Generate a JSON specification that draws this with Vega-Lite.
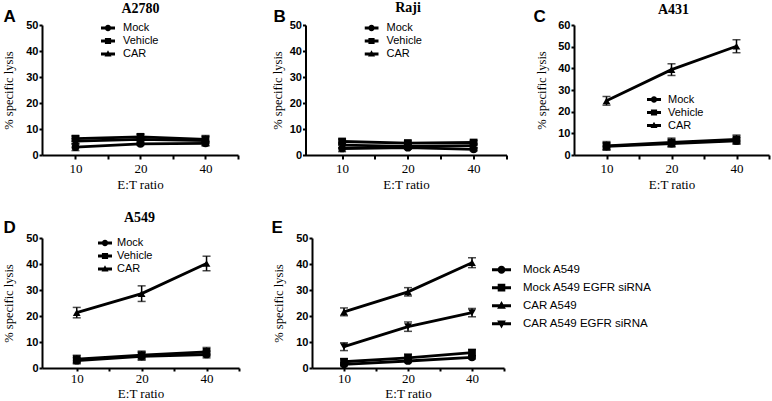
{
  "$schema": "https://vega.github.io/schema/vega-lite/v6.json",
  "padding": {"left": 2, "top": 0, "right": 2, "bottom": 0},
  "config": {
    "view": {"stroke": null},
    "axis": {"labelColor": "black", "titleColor": "black", "domainColor": "black", "tickColor": "black"},
    "legend": {"labelColor": "black"}
  },
  "datasets": {
    "A": [
      {"series": "Mock", "ratio": 10, "mean": 3.0, "err": 1.3},
      {"series": "Mock", "ratio": 20, "mean": 4.3, "err": 0.6},
      {"series": "Mock", "ratio": 40, "mean": 4.5, "err": 0.8},
      {"series": "Vehicle", "ratio": 10, "mean": 6.3, "err": 1.0},
      {"series": "Vehicle", "ratio": 20, "mean": 7.0, "err": 1.0},
      {"series": "Vehicle", "ratio": 40, "mean": 6.0, "err": 1.0},
      {"series": "CAR", "ratio": 10, "mean": 5.3, "err": 1.0},
      {"series": "CAR", "ratio": 20, "mean": 6.0, "err": 0.8},
      {"series": "CAR", "ratio": 40, "mean": 5.5, "err": 2.0}
    ],
    "B": [
      {"series": "Mock", "ratio": 10, "mean": 2.5, "err": 1.2},
      {"series": "Mock", "ratio": 20, "mean": 2.8, "err": 0.6},
      {"series": "Mock", "ratio": 40, "mean": 2.2, "err": 0.6},
      {"series": "Vehicle", "ratio": 10, "mean": 5.2, "err": 0.9},
      {"series": "Vehicle", "ratio": 20, "mean": 4.6, "err": 0.8},
      {"series": "Vehicle", "ratio": 40, "mean": 4.8, "err": 0.8},
      {"series": "CAR", "ratio": 10, "mean": 3.8, "err": 1.0},
      {"series": "CAR", "ratio": 20, "mean": 3.3, "err": 0.7},
      {"series": "CAR", "ratio": 40, "mean": 3.6, "err": 0.8}
    ],
    "C": [
      {"series": "Mock", "ratio": 10, "mean": 4.0, "err": 1.5},
      {"series": "Mock", "ratio": 20, "mean": 5.3, "err": 1.5},
      {"series": "Mock", "ratio": 40, "mean": 6.5, "err": 1.5},
      {"series": "Vehicle", "ratio": 10, "mean": 4.2, "err": 2.0},
      {"series": "Vehicle", "ratio": 20, "mean": 5.8, "err": 2.0},
      {"series": "Vehicle", "ratio": 40, "mean": 7.2, "err": 2.0},
      {"series": "CAR", "ratio": 10, "mean": 25.0, "err": 2.0},
      {"series": "CAR", "ratio": 20, "mean": 39.4, "err": 2.7},
      {"series": "CAR", "ratio": 40, "mean": 50.2, "err": 3.0}
    ],
    "D": [
      {"series": "Mock", "ratio": 10, "mean": 2.8, "err": 1.2},
      {"series": "Mock", "ratio": 20, "mean": 4.5, "err": 1.5},
      {"series": "Mock", "ratio": 40, "mean": 5.2, "err": 1.3},
      {"series": "Vehicle", "ratio": 10, "mean": 3.4, "err": 1.5},
      {"series": "Vehicle", "ratio": 20, "mean": 4.9, "err": 1.6},
      {"series": "Vehicle", "ratio": 40, "mean": 6.2, "err": 1.7},
      {"series": "CAR", "ratio": 10, "mean": 21.3, "err": 2.0},
      {"series": "CAR", "ratio": 20, "mean": 28.6, "err": 3.0},
      {"series": "CAR", "ratio": 40, "mean": 40.2, "err": 2.8}
    ],
    "E": [
      {"series": "Mock A549", "ratio": 10, "mean": 1.4, "err": 0.6},
      {"series": "Mock A549", "ratio": 20, "mean": 2.7, "err": 0.6},
      {"series": "Mock A549", "ratio": 40, "mean": 4.1, "err": 0.6},
      {"series": "Mock A549 EGFR siRNA", "ratio": 10, "mean": 2.4, "err": 1.2},
      {"series": "Mock A549 EGFR siRNA", "ratio": 20, "mean": 3.9, "err": 1.5},
      {"series": "Mock A549 EGFR siRNA", "ratio": 40, "mean": 5.9, "err": 1.2},
      {"series": "CAR A549", "ratio": 10, "mean": 21.6, "err": 1.5},
      {"series": "CAR A549", "ratio": 20, "mean": 29.3, "err": 1.6},
      {"series": "CAR A549", "ratio": 40, "mean": 40.5, "err": 1.9},
      {"series": "CAR A549 EGFR siRNA", "ratio": 10, "mean": 8.2, "err": 1.5},
      {"series": "CAR A549 EGFR siRNA", "ratio": 20, "mean": 15.9, "err": 1.8},
      {"series": "CAR A549 EGFR siRNA", "ratio": 40, "mean": 21.3, "err": 1.6}
    ]
  },
  "spacing": 19,
  "vconcat": [
    {
      "spacing": 67.5,
      "bounds": "flush",
      "hconcat": [
        {
          "width": 196, "height": 130,
          "data": {"name": "A"},
          "layer": [
            {"mark": {"type": "line", "color": "black", "strokeWidth": 2.8},
             "encoding": {
               "x": {"field": "ratio", "type": "quantitative", "scale": {"type": "log", "base": 2, "domain": [7.0, 56.57], "nice": false},
                     "axis": {"orient": "bottom", "values": [10, 14.142, 20, 28.284, 40, 56.56], "labelExpr": "(datum.value==10||datum.value==20||datum.value==40) ? datum.label : ''", "format": "d", "title": "E:T ratio", "titleFont": "Liberation Serif", "titleFontSize": 13, "titleFontWeight": "normal", "titlePadding": 3, "labelFont": "Liberation Serif", "labelFontSize": 13, "labelPadding": 3, "tickSize": 4, "tickWidth": 2, "domainWidth": 2, "grid": false, "labelFlush": false, "labelOverlap": false}},
               "y": {"field": "mean", "type": "quantitative", "scale": {"domain": [0, 50], "nice": false},
                     "axis": {"values": [0, 10, 20, 30, 40, 50], "title": "% specific lysis", "titleFont": "Liberation Serif", "titleFontSize": 12.5, "titleFontWeight": "normal", "titlePadding": 10, "labelFont": "Liberation Sans", "labelFontWeight": "bold", "labelFontSize": 11, "labelPadding": 1, "tickSize": 3, "tickWidth": 2, "domainWidth": 2, "grid": false, "labelFlush": false}},
               "detail": {"field": "series", "type": "nominal"}}},
            {"mark": {"type": "errorbar", "ticks": true, "size": 8, "thickness": 1.5, "color": "black"},
             "encoding": {
               "x": {"field": "ratio", "type": "quantitative", "axis": null},
               "y": {"field": "mean", "type": "quantitative", "axis": null},
               "yError": {"field": "err"}}},
            {"mark": {"type": "point", "filled": true, "color": "black", "opacity": 1, "size": 60},
             "encoding": {
               "x": {"field": "ratio", "type": "quantitative", "axis": {"orient": "top", "title": "A2780", "domain": false, "ticks": false, "labels": false, "grid": false, "titleFont": "Liberation Serif", "titleFontWeight": "bold", "titleFontSize": 14, "titleX": 98, "titleY": -13, "titleAlign": "center", "titleBaseline": "alphabetic"}},
               "y": {"field": "mean", "type": "quantitative", "axis": null},
               "shape": {"field": "series", "type": "nominal", "scale": {"domain": ["Mock", "Vehicle", "CAR"], "range": ["circle", "square", "triangle-up"]}, "legend": null}}},
            {"mark": {"type": "point", "filled": true, "color": "black", "opacity": 0},
             "encoding": {
               "x": {"field": "ratio", "type": "quantitative", "axis": null},
               "y": {"field": "mean", "type": "quantitative", "axis": {"orient": "right", "title": "A", "domain": false, "ticks": false, "labels": false, "grid": false, "titleAngle": 0, "titleX": -235, "titleY": -4, "titleAlign": "left", "titleBaseline": "alphabetic", "titleFont": "Liberation Sans", "titleFontWeight": "bold", "titleFontSize": 17}},
               "shape": {"field": "series", "type": "nominal",
                         "scale": {"domain": ["Mock", "Vehicle", "CAR"], "range": ["M-1,-0.2H1V0.2H-1ZM0.46,0A0.46,0.46,0,1,1,-0.46,0A0.46,0.46,0,1,1,0.46,0Z", "M-1,-0.2H1V0.2H-1ZM-0.44,-0.44H0.44V0.44H-0.44Z", "M-1,-0.2H1V0.2H-1ZM0,-0.55L0.5,0.35H-0.5Z"]},
                         "legend": {"orient": "none", "legendX": 59, "legendY": -3.5, "title": null, "symbolSize": 196, "symbolStrokeWidth": 0, "symbolFillColor": "black", "symbolOpacity": 1, "labelFont": "Liberation Sans", "labelFontSize": 11, "labelOffset": 8, "clipHeight": 13, "rowPadding": 0, "padding": 0}}}}
          ],
          "resolve": {"scale": {"shape": "independent"}, "axis": {"x": "independent", "y": "independent"}}
        },
        {
          "width": 201, "height": 130,
          "data": {"name": "B"},
          "layer": [
            {"mark": {"type": "line", "color": "black", "strokeWidth": 2.8},
             "encoding": {
               "x": {"field": "ratio", "type": "quantitative", "scale": {"type": "log", "base": 2, "domain": [6.8, 56.57], "nice": false},
                     "axis": {"orient": "bottom", "values": [10, 14.142, 20, 28.284, 40, 56.56], "labelExpr": "(datum.value==10||datum.value==20||datum.value==40) ? datum.label : ''", "format": "d", "title": "E:T ratio", "titleFont": "Liberation Serif", "titleFontSize": 13, "titleFontWeight": "normal", "titlePadding": 3, "labelFont": "Liberation Serif", "labelFontSize": 13, "labelPadding": 3, "tickSize": 4, "tickWidth": 2, "domainWidth": 2, "grid": false, "labelFlush": false, "labelOverlap": false}},
               "y": {"field": "mean", "type": "quantitative", "scale": {"domain": [0, 50], "nice": false},
                     "axis": {"values": [0, 10, 20, 30, 40, 50], "title": "% specific lysis", "titleFont": "Liberation Serif", "titleFontSize": 12.5, "titleFontWeight": "normal", "titlePadding": 5, "labelFont": "Liberation Sans", "labelFontWeight": "bold", "labelFontSize": 11, "labelPadding": 1, "tickSize": 3, "tickWidth": 2, "domainWidth": 2, "grid": false, "labelFlush": false}},
               "detail": {"field": "series", "type": "nominal"}}},
            {"mark": {"type": "errorbar", "ticks": true, "size": 8, "thickness": 1.5, "color": "black"},
             "encoding": {
               "x": {"field": "ratio", "type": "quantitative", "axis": null},
               "y": {"field": "mean", "type": "quantitative", "axis": null},
               "yError": {"field": "err"}}},
            {"mark": {"type": "point", "filled": true, "color": "black", "opacity": 1, "size": 60},
             "encoding": {
               "x": {"field": "ratio", "type": "quantitative", "axis": {"orient": "top", "title": "Raji", "domain": false, "ticks": false, "labels": false, "grid": false, "titleFont": "Liberation Serif", "titleFontWeight": "bold", "titleFontSize": 14, "titleX": 102, "titleY": -14, "titleAlign": "center", "titleBaseline": "alphabetic"}},
               "y": {"field": "mean", "type": "quantitative", "axis": null},
               "shape": {"field": "series", "type": "nominal", "scale": {"domain": ["Mock", "Vehicle", "CAR"], "range": ["circle", "square", "triangle-up"]}, "legend": null}}},
            {"mark": {"type": "point", "filled": true, "color": "black", "opacity": 0},
             "encoding": {
               "x": {"field": "ratio", "type": "quantitative", "axis": null},
               "y": {"field": "mean", "type": "quantitative", "axis": {"orient": "right", "title": "B", "domain": false, "ticks": false, "labels": false, "grid": false, "titleAngle": 0, "titleX": -233.5, "titleY": -4, "titleAlign": "left", "titleBaseline": "alphabetic", "titleFont": "Liberation Sans", "titleFontWeight": "bold", "titleFontSize": 17}},
               "shape": {"field": "series", "type": "nominal",
                         "scale": {"domain": ["Mock", "Vehicle", "CAR"], "range": ["M-1,-0.2H1V0.2H-1ZM0.46,0A0.46,0.46,0,1,1,-0.46,0A0.46,0.46,0,1,1,0.46,0Z", "M-1,-0.2H1V0.2H-1ZM-0.44,-0.44H0.44V0.44H-0.44Z", "M-1,-0.2H1V0.2H-1ZM0,-0.55L0.5,0.35H-0.5Z"]},
                         "legend": {"orient": "none", "legendX": 59, "legendY": -3.5, "title": null, "symbolSize": 196, "symbolStrokeWidth": 0, "symbolFillColor": "black", "symbolOpacity": 1, "labelFont": "Liberation Sans", "labelFontSize": 11, "labelOffset": 8, "clipHeight": 13, "rowPadding": 0, "padding": 0}}}}
          ],
          "resolve": {"scale": {"shape": "independent"}, "axis": {"x": "independent", "y": "independent"}}
        },
        {
          "width": 195, "height": 130,
          "data": {"name": "C"},
          "layer": [
            {"mark": {"type": "line", "color": "black", "strokeWidth": 2.8},
             "encoding": {
               "x": {"field": "ratio", "type": "quantitative", "scale": {"type": "log", "base": 2, "domain": [7.07, 56.57], "nice": false},
                     "axis": {"orient": "bottom", "values": [10, 14.142, 20, 28.284, 40, 56.56], "labelExpr": "(datum.value==10||datum.value==20||datum.value==40) ? datum.label : ''", "format": "d", "title": "E:T ratio", "titleFont": "Liberation Serif", "titleFontSize": 13, "titleFontWeight": "normal", "titlePadding": 3, "labelFont": "Liberation Serif", "labelFontSize": 13, "labelPadding": 3, "tickSize": 4, "tickWidth": 2, "domainWidth": 2, "grid": false, "labelFlush": false, "labelOverlap": false}},
               "y": {"field": "mean", "type": "quantitative", "scale": {"domain": [0, 60], "nice": false},
                     "axis": {"values": [0, 10, 20, 30, 40, 50, 60], "title": "% specific lysis", "titleFont": "Liberation Serif", "titleFontSize": 12.5, "titleFontWeight": "normal", "titlePadding": 9, "labelFont": "Liberation Sans", "labelFontWeight": "bold", "labelFontSize": 11, "labelPadding": 1, "tickSize": 3, "tickWidth": 2, "domainWidth": 2, "grid": false, "labelFlush": false}},
               "detail": {"field": "series", "type": "nominal"}}},
            {"mark": {"type": "errorbar", "ticks": true, "size": 8, "thickness": 1.5, "color": "black"},
             "encoding": {
               "x": {"field": "ratio", "type": "quantitative", "axis": null},
               "y": {"field": "mean", "type": "quantitative", "axis": null},
               "yError": {"field": "err"}}},
            {"mark": {"type": "point", "filled": true, "color": "black", "opacity": 1, "size": 60},
             "encoding": {
               "x": {"field": "ratio", "type": "quantitative", "axis": {"orient": "top", "title": "A431", "domain": false, "ticks": false, "labels": false, "grid": false, "titleFont": "Liberation Serif", "titleFontWeight": "bold", "titleFontSize": 14, "titleX": 99, "titleY": -12, "titleAlign": "center", "titleBaseline": "alphabetic"}},
               "y": {"field": "mean", "type": "quantitative", "axis": null},
               "shape": {"field": "series", "type": "nominal", "scale": {"domain": ["Mock", "Vehicle", "CAR"], "range": ["circle", "square", "triangle-up"]}, "legend": null}}},
            {"mark": {"type": "point", "filled": true, "color": "black", "opacity": 0},
             "encoding": {
               "x": {"field": "ratio", "type": "quantitative", "axis": null},
               "y": {"field": "mean", "type": "quantitative", "axis": {"orient": "right", "title": "C", "domain": false, "ticks": false, "labels": false, "grid": false, "titleAngle": 0, "titleX": -236, "titleY": -4, "titleAlign": "left", "titleBaseline": "alphabetic", "titleFont": "Liberation Sans", "titleFontWeight": "bold", "titleFontSize": 17}},
               "shape": {"field": "series", "type": "nominal",
                         "scale": {"domain": ["Mock", "Vehicle", "CAR"], "range": ["M-1,-0.2H1V0.2H-1ZM0.46,0A0.46,0.46,0,1,1,-0.46,0A0.46,0.46,0,1,1,0.46,0Z", "M-1,-0.2H1V0.2H-1ZM-0.44,-0.44H0.44V0.44H-0.44Z", "M-1,-0.2H1V0.2H-1ZM0,-0.55L0.5,0.35H-0.5Z"]},
                         "legend": {"orient": "none", "legendX": 73, "legendY": 68, "title": null, "symbolSize": 196, "symbolStrokeWidth": 0, "symbolFillColor": "black", "symbolOpacity": 1, "labelFont": "Liberation Sans", "labelFontSize": 11, "labelOffset": 7, "clipHeight": 13, "rowPadding": 0, "padding": 0}}}}
          ],
          "resolve": {"scale": {"shape": "independent"}, "axis": {"x": "independent", "y": "independent"}}
        }
      ]
    },
    {
      "spacing": 73,
      "bounds": "flush",
      "hconcat": [
        {
          "width": 197, "height": 130,
          "data": {"name": "D"},
          "layer": [
            {"mark": {"type": "line", "color": "black", "strokeWidth": 2.8},
             "encoding": {
               "x": {"field": "ratio", "type": "quantitative", "scale": {"type": "log", "base": 2, "domain": [6.9, 56.57], "nice": false},
                     "axis": {"orient": "bottom", "values": [10, 14.142, 20, 28.284, 40, 56.56], "labelExpr": "(datum.value==10||datum.value==20||datum.value==40) ? datum.label : ''", "format": "d", "title": "E:T ratio", "titleFont": "Liberation Serif", "titleFontSize": 13, "titleFontWeight": "normal", "titlePadding": 2, "labelFont": "Liberation Serif", "labelFontSize": 13, "labelPadding": 1, "tickSize": 3, "tickWidth": 2, "domainWidth": 2, "grid": false, "labelFlush": false, "labelOverlap": false}},
               "y": {"field": "mean", "type": "quantitative", "scale": {"domain": [0, 50], "nice": false},
                     "axis": {"values": [0, 10, 20, 30, 40, 50], "title": "% specific lysis", "titleFont": "Liberation Serif", "titleFontSize": 12.5, "titleFontWeight": "normal", "titlePadding": 10, "labelFont": "Liberation Sans", "labelFontWeight": "bold", "labelFontSize": 11, "labelPadding": 1, "tickSize": 3, "tickWidth": 2, "domainWidth": 2, "grid": false, "labelFlush": false}},
               "detail": {"field": "series", "type": "nominal"}}},
            {"mark": {"type": "errorbar", "ticks": true, "size": 8, "thickness": 1.5, "color": "black"},
             "encoding": {
               "x": {"field": "ratio", "type": "quantitative", "axis": null},
               "y": {"field": "mean", "type": "quantitative", "axis": null},
               "yError": {"field": "err"}}},
            {"mark": {"type": "point", "filled": true, "color": "black", "opacity": 1, "size": 60},
             "encoding": {
               "x": {"field": "ratio", "type": "quantitative", "axis": {"orient": "top", "title": "A549", "domain": false, "ticks": false, "labels": false, "grid": false, "titleFont": "Liberation Serif", "titleFontWeight": "bold", "titleFontSize": 14, "titleX": 97, "titleY": -17, "titleAlign": "center", "titleBaseline": "alphabetic"}},
               "y": {"field": "mean", "type": "quantitative", "axis": null},
               "shape": {"field": "series", "type": "nominal", "scale": {"domain": ["Mock", "Vehicle", "CAR"], "range": ["circle", "square", "triangle-up"]}, "legend": null}}},
            {"mark": {"type": "point", "filled": true, "color": "black", "opacity": 0},
             "encoding": {
               "x": {"field": "ratio", "type": "quantitative", "axis": null},
               "y": {"field": "mean", "type": "quantitative", "axis": {"orient": "right", "title": "D", "domain": false, "ticks": false, "labels": false, "grid": false, "titleAngle": 0, "titleX": -236, "titleY": -6, "titleAlign": "left", "titleBaseline": "alphabetic", "titleFont": "Liberation Sans", "titleFontWeight": "bold", "titleFontSize": 17}},
               "shape": {"field": "series", "type": "nominal",
                         "scale": {"domain": ["Mock", "Vehicle", "CAR"], "range": ["M-1,-0.2H1V0.2H-1ZM0.46,0A0.46,0.46,0,1,1,-0.46,0A0.46,0.46,0,1,1,0.46,0Z", "M-1,-0.2H1V0.2H-1ZM-0.44,-0.44H0.44V0.44H-0.44Z", "M-1,-0.2H1V0.2H-1ZM0,-0.55L0.5,0.35H-0.5Z"]},
                         "legend": {"orient": "none", "legendX": 56, "legendY": -1.5, "title": null, "symbolSize": 196, "symbolStrokeWidth": 0, "symbolFillColor": "black", "symbolOpacity": 1, "labelFont": "Liberation Sans", "labelFontSize": 11, "labelOffset": 5, "clipHeight": 13, "rowPadding": 0, "padding": 0}}}}
          ],
          "resolve": {"scale": {"shape": "independent"}, "axis": {"x": "independent", "y": "independent"}}
        },
        {
          "width": 192, "height": 130,
          "data": {"name": "E"},
          "layer": [
            {"mark": {"type": "line", "color": "black", "strokeWidth": 2.8},
             "encoding": {
               "x": {"field": "ratio", "type": "quantitative", "scale": {"type": "log", "base": 2, "domain": [7.07, 56.57], "nice": false},
                     "axis": {"orient": "bottom", "values": [10, 14.142, 20, 28.284, 40, 56.56], "labelExpr": "(datum.value==10||datum.value==20||datum.value==40) ? datum.label : ''", "format": "d", "title": "E:T ratio", "titleFont": "Liberation Serif", "titleFontSize": 13, "titleFontWeight": "normal", "titlePadding": 2, "labelFont": "Liberation Serif", "labelFontSize": 13, "labelPadding": 1, "tickSize": 3, "tickWidth": 2, "domainWidth": 2, "grid": false, "labelFlush": false, "labelOverlap": false}},
               "y": {"field": "mean", "type": "quantitative", "scale": {"domain": [0, 50], "nice": false},
                     "axis": {"values": [0, 10, 20, 30, 40, 50], "title": "% specific lysis", "titleFont": "Liberation Serif", "titleFontSize": 12.5, "titleFontWeight": "normal", "titlePadding": 10, "labelFont": "Liberation Sans", "labelFontWeight": "bold", "labelFontSize": 11, "labelPadding": 1, "tickSize": 3, "tickWidth": 2, "domainWidth": 2, "grid": false, "labelFlush": false}},
               "detail": {"field": "series", "type": "nominal"}}},
            {"mark": {"type": "errorbar", "ticks": true, "size": 8, "thickness": 1.5, "color": "black"},
             "encoding": {
               "x": {"field": "ratio", "type": "quantitative", "axis": null},
               "y": {"field": "mean", "type": "quantitative", "axis": null},
               "yError": {"field": "err"}}},
            {"mark": {"type": "point", "filled": true, "color": "black", "opacity": 1, "size": 60},
             "encoding": {
               "x": {"field": "ratio", "type": "quantitative", "axis": null},
               "y": {"field": "mean", "type": "quantitative", "axis": null},
               "shape": {"field": "series", "type": "nominal", "scale": {"domain": ["Mock A549", "Mock A549 EGFR siRNA", "CAR A549", "CAR A549 EGFR siRNA"], "range": ["circle", "square", "triangle-up", "triangle-down"]}, "legend": null}}},
            {"mark": {"type": "point", "filled": true, "color": "black", "opacity": 0},
             "encoding": {
               "x": {"field": "ratio", "type": "quantitative", "axis": null},
               "y": {"field": "mean", "type": "quantitative", "axis": {"orient": "right", "title": "E", "domain": false, "ticks": false, "labels": false, "grid": false, "titleAngle": 0, "titleX": -233, "titleY": -6, "titleAlign": "left", "titleBaseline": "alphabetic", "titleFont": "Liberation Sans", "titleFontWeight": "bold", "titleFontSize": 17}},
               "shape": {"field": "series", "type": "nominal",
                         "scale": {"domain": ["Mock A549", "Mock A549 EGFR siRNA", "CAR A549", "CAR A549 EGFR siRNA"], "range": ["M-1,-0.16H1V0.16H-1ZM0.42,0A0.42,0.42,0,1,1,-0.42,0A0.42,0.42,0,1,1,0.42,0Z", "M-1,-0.16H1V0.16H-1ZM-0.4,-0.4H0.4V0.4H-0.4Z", "M-1,-0.16H1V0.16H-1ZM0,-0.5L0.46,0.32H-0.46Z", "M-1,-0.16H1V0.16H-1ZM0,0.5L-0.46,-0.32H0.46Z"]},
                         "legend": {"orient": "none", "legendX": 180, "legendY": 23, "title": null, "symbolSize": 361, "symbolStrokeWidth": 0, "symbolFillColor": "black", "symbolOpacity": 1, "labelFont": "Liberation Sans", "labelFontSize": 11.5, "labelOffset": 12, "clipHeight": 17.3, "rowPadding": 0, "padding": 0}}}}
          ],
          "resolve": {"scale": {"shape": "independent"}, "axis": {"x": "independent", "y": "independent"}}
        }
      ]
    }
  ]
}
